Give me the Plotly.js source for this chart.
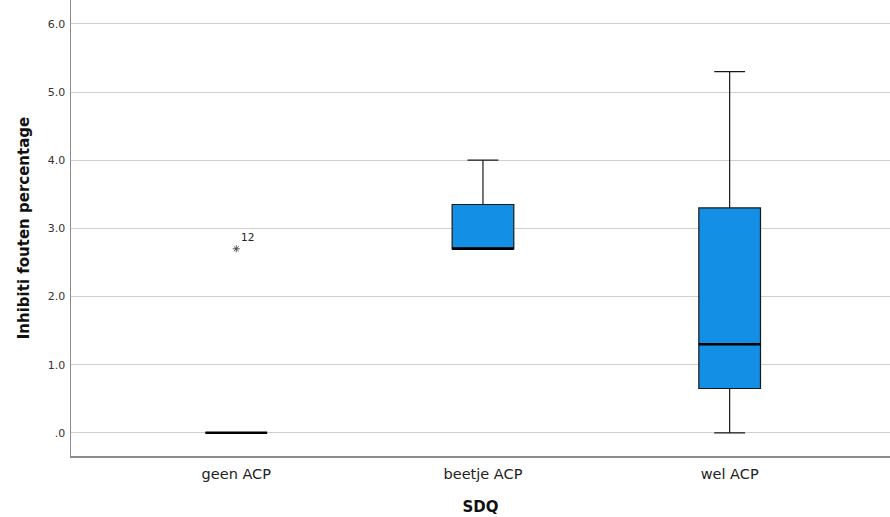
<!DOCTYPE html>
<html>
<head>
<meta charset="utf-8">
<script src="https://cdn.plot.ly/plotly-3.0.1.min.js"></script>
<style>html,body{margin:0;padding:0;background:#fff;}#chart{width:890px;height:517px;}</style>
</head>
<body>
<div id="chart"></div>
<script>
// Data
const categories = ['geen ACP', 'beetje ACP', 'wel ACP'];
const lowerWhisker = [0, 2.7, 0];
const q1 = [0, 2.7, 0.65];
const median = [0, 2.7, 1.3];
const q3 = [0, 3.35, 3.3];
const upperWhisker = [0, 4.0, 5.3];
const outlierCategory = [0];
const outlierValue = [2.7];
const outlierLabel = ['12'];
const yTickVals = [0, 1, 2, 3, 4, 5, 6];
const yTickText = ['.0', '1.0', '2.0', '3.0', '4.0', '5.0', '6.0'];

const positions = categories.map((c, i) => i);
const boxWidth = 0.25;

const traces = [{
  type: 'box',
  x: positions,
  q1: q1, median: median, q3: q3,
  lowerfence: lowerWhisker, upperfence: upperWhisker,
  width: boxWidth,
  whiskerwidth: 0.5,
  fillcolor: '#138fe6',
  line: {color: '#1a1a1a', width: 1.2},
  boxpoints: false,
  hoverinfo: 'skip',
  showlegend: false
}];

// thicker median lines
positions.forEach((p, i) => {
  traces.push({
    type: 'scatter', mode: 'lines',
    x: [p - boxWidth / 2, p + boxWidth / 2],
    y: [median[i], median[i]],
    line: {color: '#000', width: 2.5},
    hoverinfo: 'skip', showlegend: false
  });
});

traces.push({
  type: 'scatter', mode: 'markers+text',
  x: outlierCategory.map(i => positions[i]),
  y: outlierValue,
  text: outlierLabel,
  textposition: 'top right',
  textfont: {family: 'DejaVu Sans', size: 10.5, color: '#222'},
  marker: {symbol: 'asterisk-open', size: 6, color: '#333', line: {color: '#333', width: 0.8}},
  hoverinfo: 'skip', showlegend: false
});

const layout = {
  width: 890, height: 517,
  margin: {l: 71, r: 0, t: 0, b: 61},
  paper_bgcolor: '#fff', plot_bgcolor: '#fff',
  font: {family: 'DejaVu Sans', color: '#222'},
  showlegend: false,
  xaxis: {
    range: [-0.67, 2.65],
    tickvals: positions, ticktext: categories,
    tickfont: {size: 14.5, color: '#222'},
    ticklabelstandoff: 4,
    showgrid: false, zeroline: false,
    showline: true, linecolor: '#8c8c8c', linewidth: 1.5,
    ticks: '', ticklen: 0,
    title: {text: 'SDQ', font: {size: 15, color: '#111', weight: 'bold'}, standoff: 20}
  },
  yaxis: {
    range: [-0.34, 6.35],
    tickvals: yTickVals, ticktext: yTickText,
    tickfont: {size: 11, color: '#333'},
    ticklabelstandoff: 2,
    showgrid: true, gridcolor: '#cfcfcf', gridwidth: 1,
    zeroline: false,
    showline: true, linecolor: '#8c8c8c', linewidth: 1.5,
    ticks: '', ticklen: 0,
    title: {text: 'Inhibiti fouten percentage', font: {size: 15, color: '#111', weight: 'bold'}, standoff: 14}
  }
};

Plotly.newPlot('chart', traces, layout, {displayModeBar: false, staticPlot: true});
</script>
</body>
</html>
